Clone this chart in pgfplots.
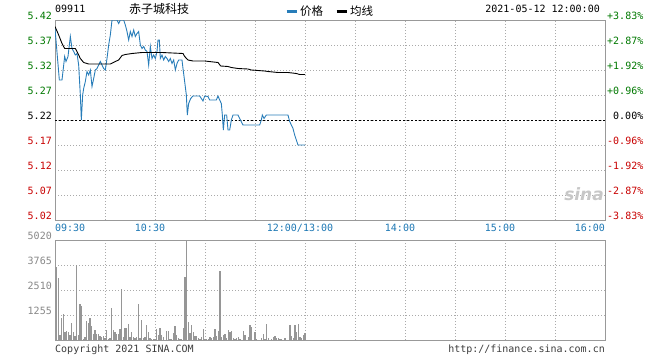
\documentclass[border=0pt]{standalone}
\usepackage{pgfplots}
\pgfplotsset{compat=1.18}
\usepackage{fontspec}
\setmainfont{DejaVu Sans Mono}
\newfontfamily\cjk{Noto Sans CJK SC}
\newfontfamily\sansb{DejaVu Sans}
\definecolor{pgreen}{RGB}{0,120,0}
\definecolor{pred}{RGB}{200,0,0}
\definecolor{tblue}{RGB}{30,120,180}
\definecolor{lblue}{RGB}{40,125,185}
\definecolor{framec}{RGB}{153,153,153}
\definecolor{gridc}{RGB}{170,170,170}
\definecolor{vgray}{RGB}{150,150,150}
\definecolor{vlab}{RGB}{135,135,135}
\definecolor{foot}{RGB}{60,60,60}

\pgfplotstableread{
m p
0 5.403
2.6 5.30
4.2 5.30
5.8 5.347
6.6 5.337
7.8 5.347
9.2 5.387
10.2 5.363
11.2 5.357
12.2 5.35
13.2 5.353
14.2 5.33
15.2 5.27
15.8 5.22
16.6 5.27
17.2 5.283
18.2 5.297
19.2 5.317
20.2 5.31
21.2 5.32
22.2 5.287
23.2 5.303
24.2 5.32
25.2 5.323
26.2 5.33
27.2 5.337
28.2 5.33
29.2 5.323
30.2 5.32
31.2 5.343
32.2 5.37
33.2 5.39
34.2 5.42
37.2 5.42
38.2 5.413
39.2 5.42
41.2 5.42
42.2 5.41
43.2 5.397
44.2 5.38
45.2 5.397
46.2 5.387
47.2 5.40
48.2 5.387
49.2 5.393
50.2 5.397
51.2 5.37
52.2 5.363
53.2 5.367
54.2 5.36
55.2 5.357
56.2 5.33
57.2 5.367
58.2 5.343
59.2 5.35
60.2 5.343
61.2 5.357
61.8 5.38
62.6 5.38
63.2 5.343
64.2 5.35
65.2 5.34
66.2 5.347
67.2 5.343
68.2 5.337
69.2 5.343
70.2 5.333
71.2 5.34
72.2 5.32
73.2 5.333
74.2 5.34
76.2 5.34
76.8 5.323
77.8 5.297
78.8 5.27
79.4 5.23
80.2 5.253
81.4 5.263
82.8 5.268
86.8 5.268
87.8 5.263
88.8 5.258
89.8 5.268
91.8 5.267
92.8 5.26
96.8 5.26
97.8 5.268
98.8 5.26
99.8 5.253
100.4 5.23
101 5.20
101.8 5.23
103 5.23
103.8 5.20
104.8 5.20
105.8 5.22
106.8 5.23
109.8 5.23
110.8 5.223
112.8 5.21
122.8 5.21
123.8 5.22
124.4 5.23
125.4 5.223
126.8 5.23
139.8 5.23
140.8 5.217
142.8 5.203
143.8 5.19
144.8 5.18
145.8 5.17
150 5.17
}\price

\pgfplotstableread{
m a
0 5.407
2.2 5.39
4.2 5.373
5.8 5.363
12.2 5.363
13.2 5.357
15.2 5.343
17.2 5.335
20.2 5.332
33.2 5.332
36.2 5.337
38.2 5.34
40.2 5.349
42.2 5.351
46.2 5.353
52.2 5.355
64.2 5.355
76.8 5.353
77.8 5.347
79.8 5.34
82.8 5.338
89.8 5.338
97.8 5.335
99.4 5.328
103.8 5.327
105.8 5.325
109.8 5.323
115.8 5.322
117.8 5.32
125.8 5.318
127.8 5.317
133.8 5.315
139.8 5.315
144.8 5.313
146.8 5.311
150 5.311
}\avg

\pgfplotstableread{
m v
1 3665
2 3112
3 268
4 1104
5 1305
6 402
7 435
8 402
9 268
10 853
11 402
12 184
13 3749
14 268
15 1807
16 1707
17 67
18 134
19 971
20 853
21 1104
22 703
23 301
24 502
25 301
26 301
27 184
28 134
29 184
30 100
31 502
32 67
33 100
34 1606
35 502
36 402
37 301
38 301
39 552
40 2560
41 167
42 602
43 602
44 803
45 134
46 402
47 134
48 100
49 151
50 1807
51 100
52 1004
53 100
54 167
55 736
56 402
57 100
58 33
59 67
60 67
61 569
62 268
63 602
64 268
65 167
67 435
68 435
69 50
70 33
71 351
72 703
73 234
74 100
75 67
76 33
77 602
78 3179
79 4987
80 904
81 351
82 770
83 402
84 201
85 201
86 100
87 33
88 134
89 569
90 33
91 67
92 33
93 134
94 100
95 167
96 569
97 201
98 435
99 3480
100 167
101 234
102 301
103 100
104 502
105 402
106 469
107 100
108 67
109 100
110 167
111 67
113 435
114 268
116 167
117 770
118 669
120 402
121 33
124 100
125 301
126 67
127 803
128 100
130 67
131 134
132 201
133 100
134 100
135 33
136 33
138 100
141 770
142 201
143 100
144 736
145 402
146 803
147 167
148 100
149 234
150 335
}\vol

\begin{document}
\begin{tikzpicture}
\path[use as bounding box] (0pt,0pt) rectangle (660pt,360pt);

% price panel
\begin{axis}[
  at={(55pt,140pt)}, anchor=south west,
  width=550pt, height=200pt, scale only axis,
  xmin=0, xmax=330, ymin=5.02, ymax=5.42,
  axis line style={framec, line width=1pt},
  major tick length=0pt,
  /pgf/number format/assume math mode=true,
  xtick={0,30,60,90,120,150,180,210,240,270,300,330},
  xticklabels={\makebox[0pt][l]{\kern5pt 09:30},,10:30,,,12:00/13:00,,14:00,,15:00,,\makebox[0pt][r]{16:00\kern-5pt}},
  xticklabel style={anchor=north, inner sep=0pt, yshift=-4pt, xshift=-5pt, text=tblue, font=\fontsize{10}{10}\selectfont},
  ytick={5.02,5.07,5.12,5.17,5.22,5.27,5.32,5.37,5.42},
  yticklabels={\textcolor{pred}{5.02},\textcolor{pred}{5.07},\textcolor{pred}{5.12},\textcolor{pred}{5.17},5.22,\textcolor{pgreen}{5.27},\textcolor{pgreen}{5.32},\textcolor{pgreen}{5.37},\textcolor{pgreen}{5.42}},
  yticklabel style={anchor=south east, inner sep=0pt, xshift=-3pt, yshift=0.5pt, font=\fontsize{10}{10}\selectfont},
  grid=major,
  major grid style={gridc, line width=0.8pt, dash pattern=on 1pt off 2pt},
  legend columns=2,
  legend style={at={(0.418,1.045)}, anchor=west, draw=none, fill=none, inner sep=0pt,
    font=\cjk\fontsize{11.5}{12}\selectfont,
    /tikz/every even column/.append style={column sep=10pt}},
  legend image code/.code={\draw[#1, line width=3pt] (0pt,0pt) -- (10pt,0pt);},
]
\addplot[black, line width=0.8pt, dash pattern=on 2pt off 2pt, forget plot] coordinates {(0,5.22) (330,5.22)};
\addplot[lblue, line width=0.9pt] table[x=m, y=p] {\price};
\addlegendentry{价格}
\addplot[black, line width=0.9pt] table[x=m, y=a] {\avg};
\addlegendentry{均线}
\end{axis}

% right percentage axis
\begin{axis}[
  at={(55pt,140pt)}, anchor=south west,
  width=550pt, height=200pt, scale only axis,
  xmin=0, xmax=330, ymin=5.02, ymax=5.42,
  hide x axis,
  axis y line*=right,
  axis line style={draw=none},
  major tick length=0pt,
  ytick={5.02,5.07,5.12,5.17,5.22,5.27,5.32,5.37,5.42},
  yticklabels={\textcolor{pred}{-3.83\%},\textcolor{pred}{-2.87\%},\textcolor{pred}{-1.92\%},\textcolor{pred}{-0.96\%},\kern6pt 0.00\%,\textcolor{pgreen}{+0.96\%},\textcolor{pgreen}{+1.92\%},\textcolor{pgreen}{+2.87\%},\textcolor{pgreen}{+3.83\%}},
  yticklabel style={anchor=south west, inner sep=0pt, xshift=2pt, yshift=0.5pt, font=\fontsize{10}{10}\selectfont},
]
\addplot[draw=none] coordinates {(0,5.22)};
\end{axis}

% volume panel
\begin{axis}[
  at={(55pt,20pt)}, anchor=south west,
  width=550pt, height=100pt, scale only axis,
  xmin=0, xmax=330, ymin=0, ymax=5020,
  axis line style={framec, line width=1pt},
  major tick length=0pt,
  xtick={0,30,60,90,120,150,180,210,240,270,300,330},
  xticklabels={},
  ytick={0,1255,2510,3765,5020},
  yticklabels={,1255,2510,3765,5020},
  yticklabel style={anchor=south east, inner sep=0pt, xshift=-3pt, yshift=0.5pt, text=vlab, font=\fontsize{10}{10}\selectfont},
  grid=major,
  major grid style={gridc, line width=0.8pt, dash pattern=on 1pt off 2pt},
]
\addplot[ycomb, vgray, line width=1.1pt] table[x=m, y=v] {\vol};
\end{axis}

% header and footer texts
\node[anchor=base west, inner sep=0pt, font=\fontsize{10}{10}\selectfont] at (55pt,348pt) {09911};
\node[anchor=center, inner sep=0pt, font=\cjk\fontsize{12}{12}\selectfont] at (159pt,351pt) {赤子城科技};
\node[anchor=base east, inner sep=0pt, font=\fontsize{10}{10}\selectfont] at (600pt,348pt) {2021-05-12 12:00:00};
\node[anchor=base west, inner sep=0pt, text=foot, font=\fontsize{10}{10}\selectfont] at (55pt,8pt) {Copyright 2021 SINA.COM};
\node[anchor=base east, inner sep=0pt, text=foot, font=\fontsize{10}{10}\selectfont] at (605pt,8pt) {http://finance.sina.com.cn};
\node[anchor=center, inner sep=0pt, text=black!22, font=\sansb\bfseries\itshape\fontsize{17}{17}\selectfont] at (584pt,166pt) {sina};
\end{tikzpicture}
\end{document}
